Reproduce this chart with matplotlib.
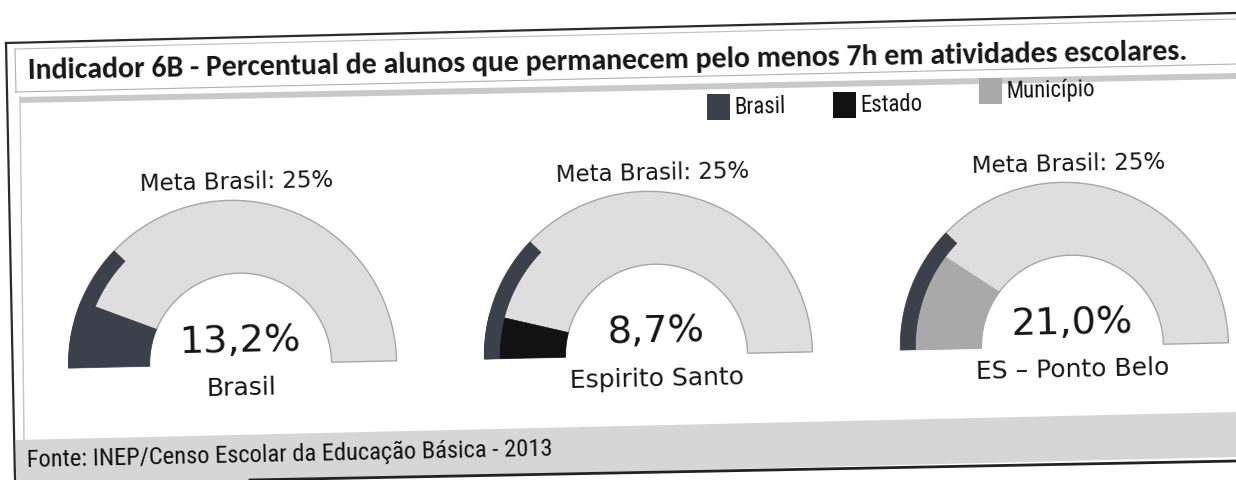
import numpy as np
import matplotlib
matplotlib.use("Agg")
import matplotlib.pyplot as plt
from matplotlib import font_manager
from matplotlib.font_manager import FontProperties
from matplotlib.patches import Polygon, Rectangle
from matplotlib.transforms import Affine2D

# dados do indicador
locais = ["Brasil", "Espirito Santo", "ES – Ponto Belo"]
valores = [13.2, 8.7, 21.0]
niveis = ["Brasil", "Estado", "Município"]  # serie de cada gauge
meta_brasil = 25.0
escala_max = 100.0
legenda = ["Brasil", "Estado", "Município"]
cores = {"Brasil": "#3b414b", "Estado": "#121212", "Município": "#a9a9a9"}
titulo = "Indicador 6B - Percentual de alunos que permanecem pelo menos 7h em atividades escolares."
fonte = "Fonte: INEP/Censo Escolar da Educação Básica - 2013"

fl = font_manager.fontManager.ttflist
nomes = {f.name for f in fl}
def pick(*fams):
    for f in fams:
        if f in nomes:
            return f
    return "DejaVu Sans"
f_tit = pick("Carlito", "Lato", "Open Sans")
f_gauge = "DejaVu Sans"

# fonte estreita (tipo Arial Narrow) se houver alguma instalada
def eh_normal(f):
    return f.style == "normal" and f.weight in (400, "normal", "regular", "book")
estreitas = [f for f in fl if eh_normal(f) and "Mono" not in f.name and "Serif" not in f.name
             and (f.stretch in ("condensed", "semi-condensed", "extra-condensed")
                  or "Narrow" in f.name or "Condensed" in f.name)]
ordem = ["Liberation Sans Narrow", "Roboto Condensed", "Open Sans Condensed",
         "Noto Sans", "DejaVu Sans", "Open Sans", "Roboto"]
estreitas.sort(key=lambda f: min([i for i, n in enumerate(ordem) if f.name.startswith(n)] + [99]))
if estreitas:
    fp_narrow = FontProperties(fname=estreitas[0].fname)
    fator = 1.0
else:
    fp_narrow = FontProperties(family=pick("Liberation Sans", "Arimo"))
    fator = 1.06

fig = plt.figure(figsize=(12.36, 4.8), dpi=100)
ax = fig.add_axes([0, 0, 1, 1])
ax.set_xlim(0, 1236)
ax.set_ylim(480, 0)
ax.axis("off")
rend = fig.canvas.get_renderer()

def ajusta(t, largura):
    w = t.get_window_extent(rend).width
    t.set_fontsize(t.get_fontsize() * largura / w)
    return t.get_fontsize()

# moldura (a folha escaneada esta um pouco torta)
ax.add_patch(Polygon([(20, 97), (1236, 73), (1236, 79), (20, 103)], closed=True,
                     fc="#c9c9c9", ec="none"))
ax.add_patch(Polygon([(16, 440), (1236, 412), (1236, 457), (16, 486)], closed=True,
                     fc="#d6d6d6", ec="none"))
ax.plot([6, 1236], [43, 13], color="#2b2b2b", lw=1.6)
ax.plot([6, 15], [43, 480], color="#2b2b2b", lw=1.6)
ax.plot([15, 1236], [49, 19], color="#bdbdbd", lw=0.8)
ax.plot([15, 16], [49, 92], color="#b0b0b0", lw=0.8)
ax.plot([15, 1236], [92, 64], color="#b0b0b0", lw=0.8)
ax.plot([20, 24], [97, 440], color="#c4c4c4", lw=1)
ax.plot([250, 1236], [480, 461], color="#222222", lw=2)

# titulo
t = ax.text(28, 79, titulo, rotation=0.95, rotation_mode="anchor", ha="left",
            va="baseline", fontsize=20, fontweight="bold", family=f_tit, color="#161616")
ajusta(t, 1165)

# legenda
leg_x = [707, 833, 979]
leg_y = [94, 92, 78]
tl = []
for nome, x, y in zip(legenda, leg_x, leg_y):
    ax.add_patch(Rectangle((x, y), 23, 26, fc=cores[nome], ec="none"))
    tl.append(ax.text(x + 27, y + 20, nome, rotation=1.24, rotation_mode="anchor",
                      ha="left", va="baseline", fontproperties=fp_narrow, fontsize=16,
                      color="#111111"))
fs = ajusta(tl[2], 89 * fator)
for tt in tl:
    tt.set_fontsize(fs)

# fonte
tf = ax.text(27, 467, fonte, rotation=1.24, rotation_mode="anchor", ha="left",
             va="baseline", fontproperties=fp_narrow, fontsize=16, color="#111111")
ajusta(tf, 527 * fator)

# gauges
rot = Affine2D().rotate_deg_around(618, 240, -1.24) + ax.transData
cxs = [230, 646, 1062]
cy = 356
r_o, r_i, faixa_meta, dx_i = 164, 91, 15, 8

def faixa(cx, ro, ri, a0, a1, dxi=0, n=160):
    th = np.radians(np.linspace(a0, a1, n))
    ox = cx + ro * np.cos(th)
    oy = cy - ro * np.sin(th)
    ix = cx + dxi + ri * np.cos(th[::-1])
    iy = cy - ri * np.sin(th[::-1])
    return np.column_stack([np.r_[ox, ix], np.r_[oy, iy]])

for cx, v, nv, nome in zip(cxs, valores, niveis, locais):
    ax.add_patch(Polygon(faixa(cx, r_o, r_i, 180, 0, dx_i), closed=True,
                         fc="#dedede", ec="#a6a6a6", lw=1, transform=rot))
    a1 = 180 - v / escala_max * 180
    ax.add_patch(Polygon(faixa(cx, r_o, r_i, 180, a1, dx_i), closed=True,
                         fc=cores[nv], ec=cores[nv], lw=0.5, transform=rot))
    am = 180 - meta_brasil / escala_max * 180
    ax.add_patch(Polygon(faixa(cx, r_o, r_o - faixa_meta, 180, am), closed=True,
                         fc=cores["Brasil"], ec=cores["Brasil"], lw=0.5, transform=rot))
    kw = dict(transform=rot, rotation=1.24, rotation_mode="anchor", ha="center",
              va="baseline", family=f_gauge, color="#141414")
    ax.text(cx + 8, 181, "Meta Brasil: %d%%" % meta_brasil, fontsize=16.5, **kw)
    ax.text(cx + 8, 343, ("%.1f%%" % v).replace(".", ","), fontsize=27.5, **kw)
    ax.text(cx + 8, 387, nome, fontsize=18, **kw)

fig.savefig("out.png", dpi=100)
